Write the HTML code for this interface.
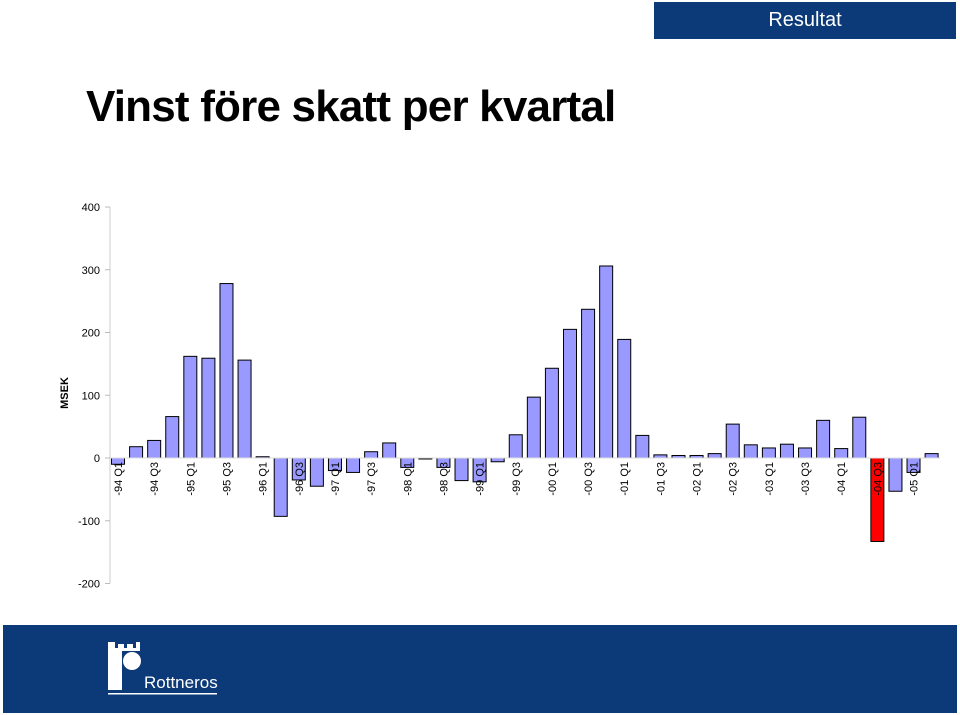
<!DOCTYPE html>
<html><head><meta charset="utf-8"><style>
body{margin:0;width:960px;height:715px;background:#fff;position:relative;overflow:hidden;font-family:"Liberation Sans",Arial,sans-serif}
.hdr{position:absolute;left:654px;top:2px;width:302px;height:37px;background:#0c3a78;color:#fff;font-size:20px;line-height:37px;text-align:center}
h1{position:absolute;left:86px;top:82px;margin:0;font-size:44px;font-weight:bold;color:#000;letter-spacing:-0.8px}
.foot{position:absolute;left:3px;top:625px;width:954px;height:88px;background:#0c3a78}
</style></head><body>
<div class="hdr">Resultat</div>
<h1>Vinst före skatt per kvartal</h1>
<svg id="chart" style="position:absolute;left:0;top:0" width="960" height="620"></svg>
<div class="foot">
<svg width="200" height="88" style="position:absolute;left:101px;top:0">
<rect x="4" y="17" width="7" height="8" fill="#fff"/><rect x="14" y="19" width="6" height="6" fill="#fff"/><rect x="23" y="19" width="6" height="6" fill="#fff"/><rect x="32" y="17" width="4" height="8" fill="#fff"/>
<rect x="4" y="23" width="32" height="3" fill="#fff"/>
<rect x="4" y="26" width="14" height="39" fill="#fff"/>
<circle cx="28" cy="36" r="9" fill="#fff"/>
<rect x="4" y="68" width="109" height="1.5" fill="#fff"/>
<text x="40" y="63" font-size="17" fill="#fff" font-family="Liberation Sans, sans-serif">Rottneros</text>
</svg></div>
<script>
const categories=["-94 Q1","-94 Q2","-94 Q3","-94 Q4","-95 Q1","-95 Q2","-95 Q3","-95 Q4","-96 Q1","-96 Q2","-96 Q3","-96 Q4","-97 Q1","-97 Q2","-97 Q3","-97 Q4","-98 Q1","-98 Q2","-98 Q3","-98 Q4","-99 Q1","-99 Q2","-99 Q3","-99 Q4","-00 Q1","-00 Q2","-00 Q3","-00 Q4","-01 Q1","-01 Q2","-01 Q3","-01 Q4","-02 Q1","-02 Q2","-02 Q3","-02 Q4","-03 Q1","-03 Q2","-03 Q3","-03 Q4","-04 Q1","-04 Q2","-04 Q3","-04 Q4","-05 Q1","-05 Q2"];
const values=[-10,18,28,66,162,159,278,156,2,-93,-35,-45,-20,-23,10,24,-15,-1,-15,-36,-38,-6,37,97,143,205,237,306,189,36,5,4,4,7,54,21,16,22,16,60,15,65,-133,-53,-23,7];
const highlight=["-04 Q3"];
const yTicks=[400,300,200,100,0,-100,-200];
const svg=document.getElementById('chart');const NS='http://www.w3.org/2000/svg';
const y=v=>458-v*0.6275;const x=i=>118+i*18.08;
function mk(t,a){const e=document.createElementNS(NS,t);for(const k in a)e.setAttribute(k,a[k]);svg.appendChild(e);return e;}
let ax=mk('line',{x1:110,x2:110,y1:y(400),y2:y(-200),stroke:'#ccc'});


yTicks.forEach(t=>{const l=mk('line',{x1:105,x2:110,y1:y(t),y2:y(t),stroke:'#bbb'});


const tx=mk('text',{x:100,y:y(t)+4,'text-anchor':'end','font-size':11,fill:'#000'});tx.textContent=t;

});
const yt=mk('text',{x:0,y:0,transform:'translate(68,393) rotate(-90)','text-anchor':'middle','font-size':11,'font-weight':'bold'});yt.textContent='MSEK';


values.forEach((v,i)=>{const r=mk('rect',{x:x(i)-6.5,y:Math.min(y(v),y(0)),width:13,height:Math.max(Math.abs(y(v)-y(0)),1),fill:highlight.includes(categories[i])?'#ff0000':'#9999ff',stroke:'#000','stroke-width':1});

});
mk('line',{x1:110,x2:940,y1:y(0),y2:y(0),stroke:'#ddd'});
categories.forEach((c,i)=>{if(i%2)return;const t=mk('text',{x:0,y:0,transform:`translate(${x(i)+4},462) rotate(-90)`,'text-anchor':'end','font-size':11});t.textContent=c;

});
</script>
</body></html>
